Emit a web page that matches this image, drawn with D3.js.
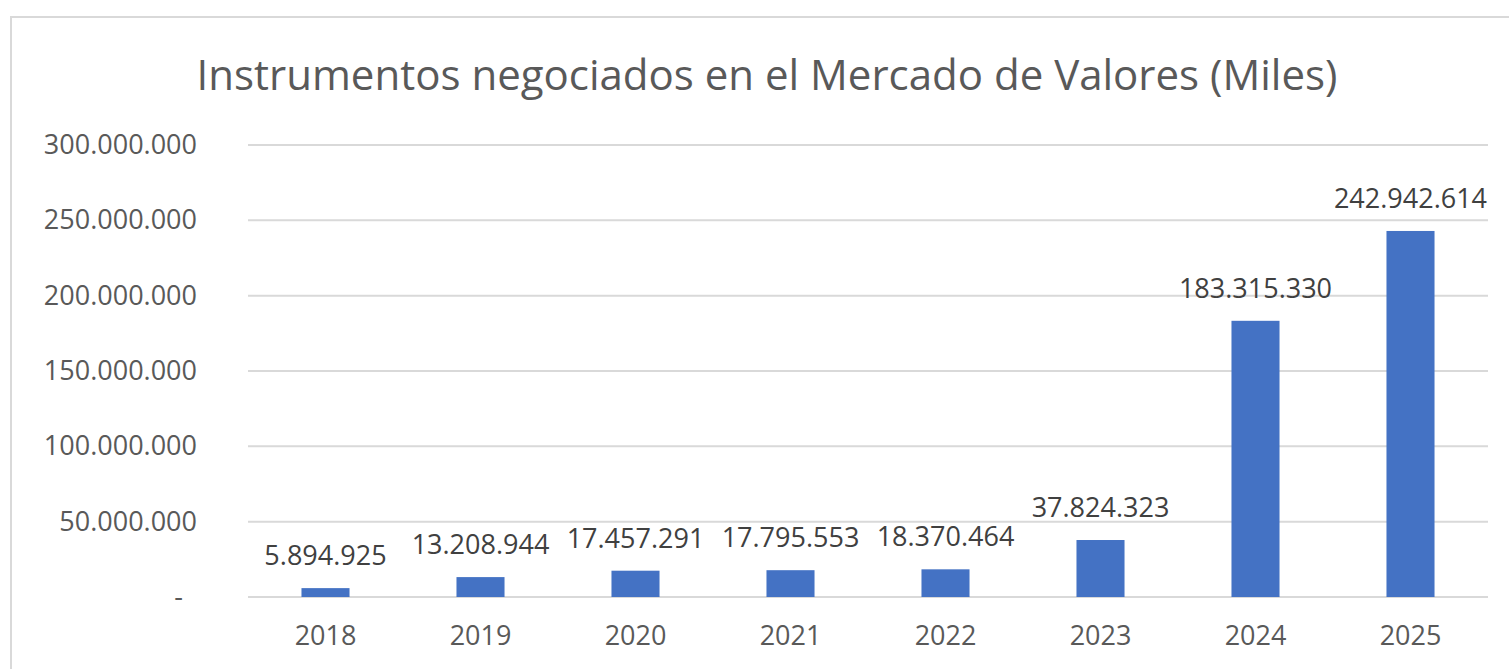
<!DOCTYPE html>
<html>
<head>
<meta charset="utf-8">
<script src="https://cdn.jsdelivr.net/npm/d3@7"></script>
<style>
  body { margin: 0; background: #fff; }
  svg { display: block; font-family: "Open Sans", sans-serif; }
</style>
</head>
<body>
<svg id="chart" width="1509" height="669"></svg>
<script>
// Data
var years = ["2018", "2019", "2020", "2021", "2022", "2023", "2024", "2025"];
var values = [5894925, 13208944, 17457291, 17795553, 18370464, 37824323, 183315330, 242942614];
var yTicks = [0, 50000000, 100000000, 150000000, 200000000, 250000000, 300000000];
var title = "Instrumentos negociados en el Mercado de Valores (Miles)";

var svg = d3.select("#chart");

// Plot area
var plotLeft = 248, plotRight = 1488, plotTop = 145, plotBottom = 597;

// Chart frame (runs past the window edges)
svg.append("rect")
    .attr("x", 11)
    .attr("y", 17)
    .attr("width", 1530)
    .attr("height", 700)
    .attr("fill", "#fff")
    .attr("stroke", "#d9d9d9")
    .attr("stroke-width", 2);

var x = d3.scaleBand()
    .domain(years)
    .range([plotLeft, plotRight])
    .paddingInner(0.69)
    .paddingOuter(0.345);

var y = d3.scaleLinear()
    .domain([0, 300000000])
    .range([plotBottom, plotTop]);

// Spanish thousands separator
var fmt = d3.formatLocale({ decimal: ",", thousands: ".", grouping: [3], currency: ["", ""] }).format(",d");

// Title
svg.append("text")
    .attr("x", 767)
    .attr("y", 90)
    .attr("text-anchor", "middle")
    .attr("fill", "#595959")
    .style("font-size", "42px")
    .text(title);

// Gridlines
svg.append("g")
    .selectAll("line")
    .data(yTicks)
    .enter()
    .append("line")
    .attr("x1", plotLeft)
    .attr("x2", plotRight)
    .attr("y1", function(d) { return y(d); })
    .attr("y2", function(d) { return y(d); })
    .attr("stroke", "#d9d9d9")
    .attr("stroke-width", 2);

// Y axis
var yAxis = svg.append("g")
    .attr("transform", "translate(" + plotLeft + ",0)")
    .call(d3.axisLeft(y)
        .tickValues(yTicks)
        .tickSize(0)
        .tickPadding(51)
        .tickFormat(function(d) { return d === 0 ? "-" : fmt(d); }));

yAxis.select(".domain").remove();
yAxis.selectAll("text")
    .attr("fill", "#595959")
    .style("font-size", "27px")
    .style("font-family", "'Open Sans', sans-serif")
    .attr("dx", function(d) { return d === 0 ? -14 : 0; });

// X axis
var xAxis = svg.append("g")
    .attr("transform", "translate(0," + plotBottom + ")")
    .call(d3.axisBottom(x).tickSize(0).tickPadding(29));

xAxis.select(".domain").remove();
xAxis.selectAll("text")
    .attr("fill", "#595959")
    .style("font-size", "27px")
    .style("font-family", "'Open Sans', sans-serif");

// Bars
svg.append("g")
    .selectAll("rect")
    .data(values)
    .enter()
    .append("rect")
    .attr("x", function(d, i) { return x(years[i]); })
    .attr("y", function(d) { return y(d); })
    .attr("width", x.bandwidth())
    .attr("height", function(d) { return plotBottom - y(d); })
    .attr("fill", "#4472c4");

// Data labels
svg.append("g")
    .selectAll("text")
    .data(values)
    .enter()
    .append("text")
    .attr("x", function(d, i) { return x(years[i]) + x.bandwidth() / 2; })
    .attr("y", function(d) { return y(d) - 23; })
    .attr("text-anchor", "middle")
    .attr("fill", "#404040")
    .style("font-size", "27px")
    .text(function(d) { return fmt(d); });
</script>
</body>
</html>
